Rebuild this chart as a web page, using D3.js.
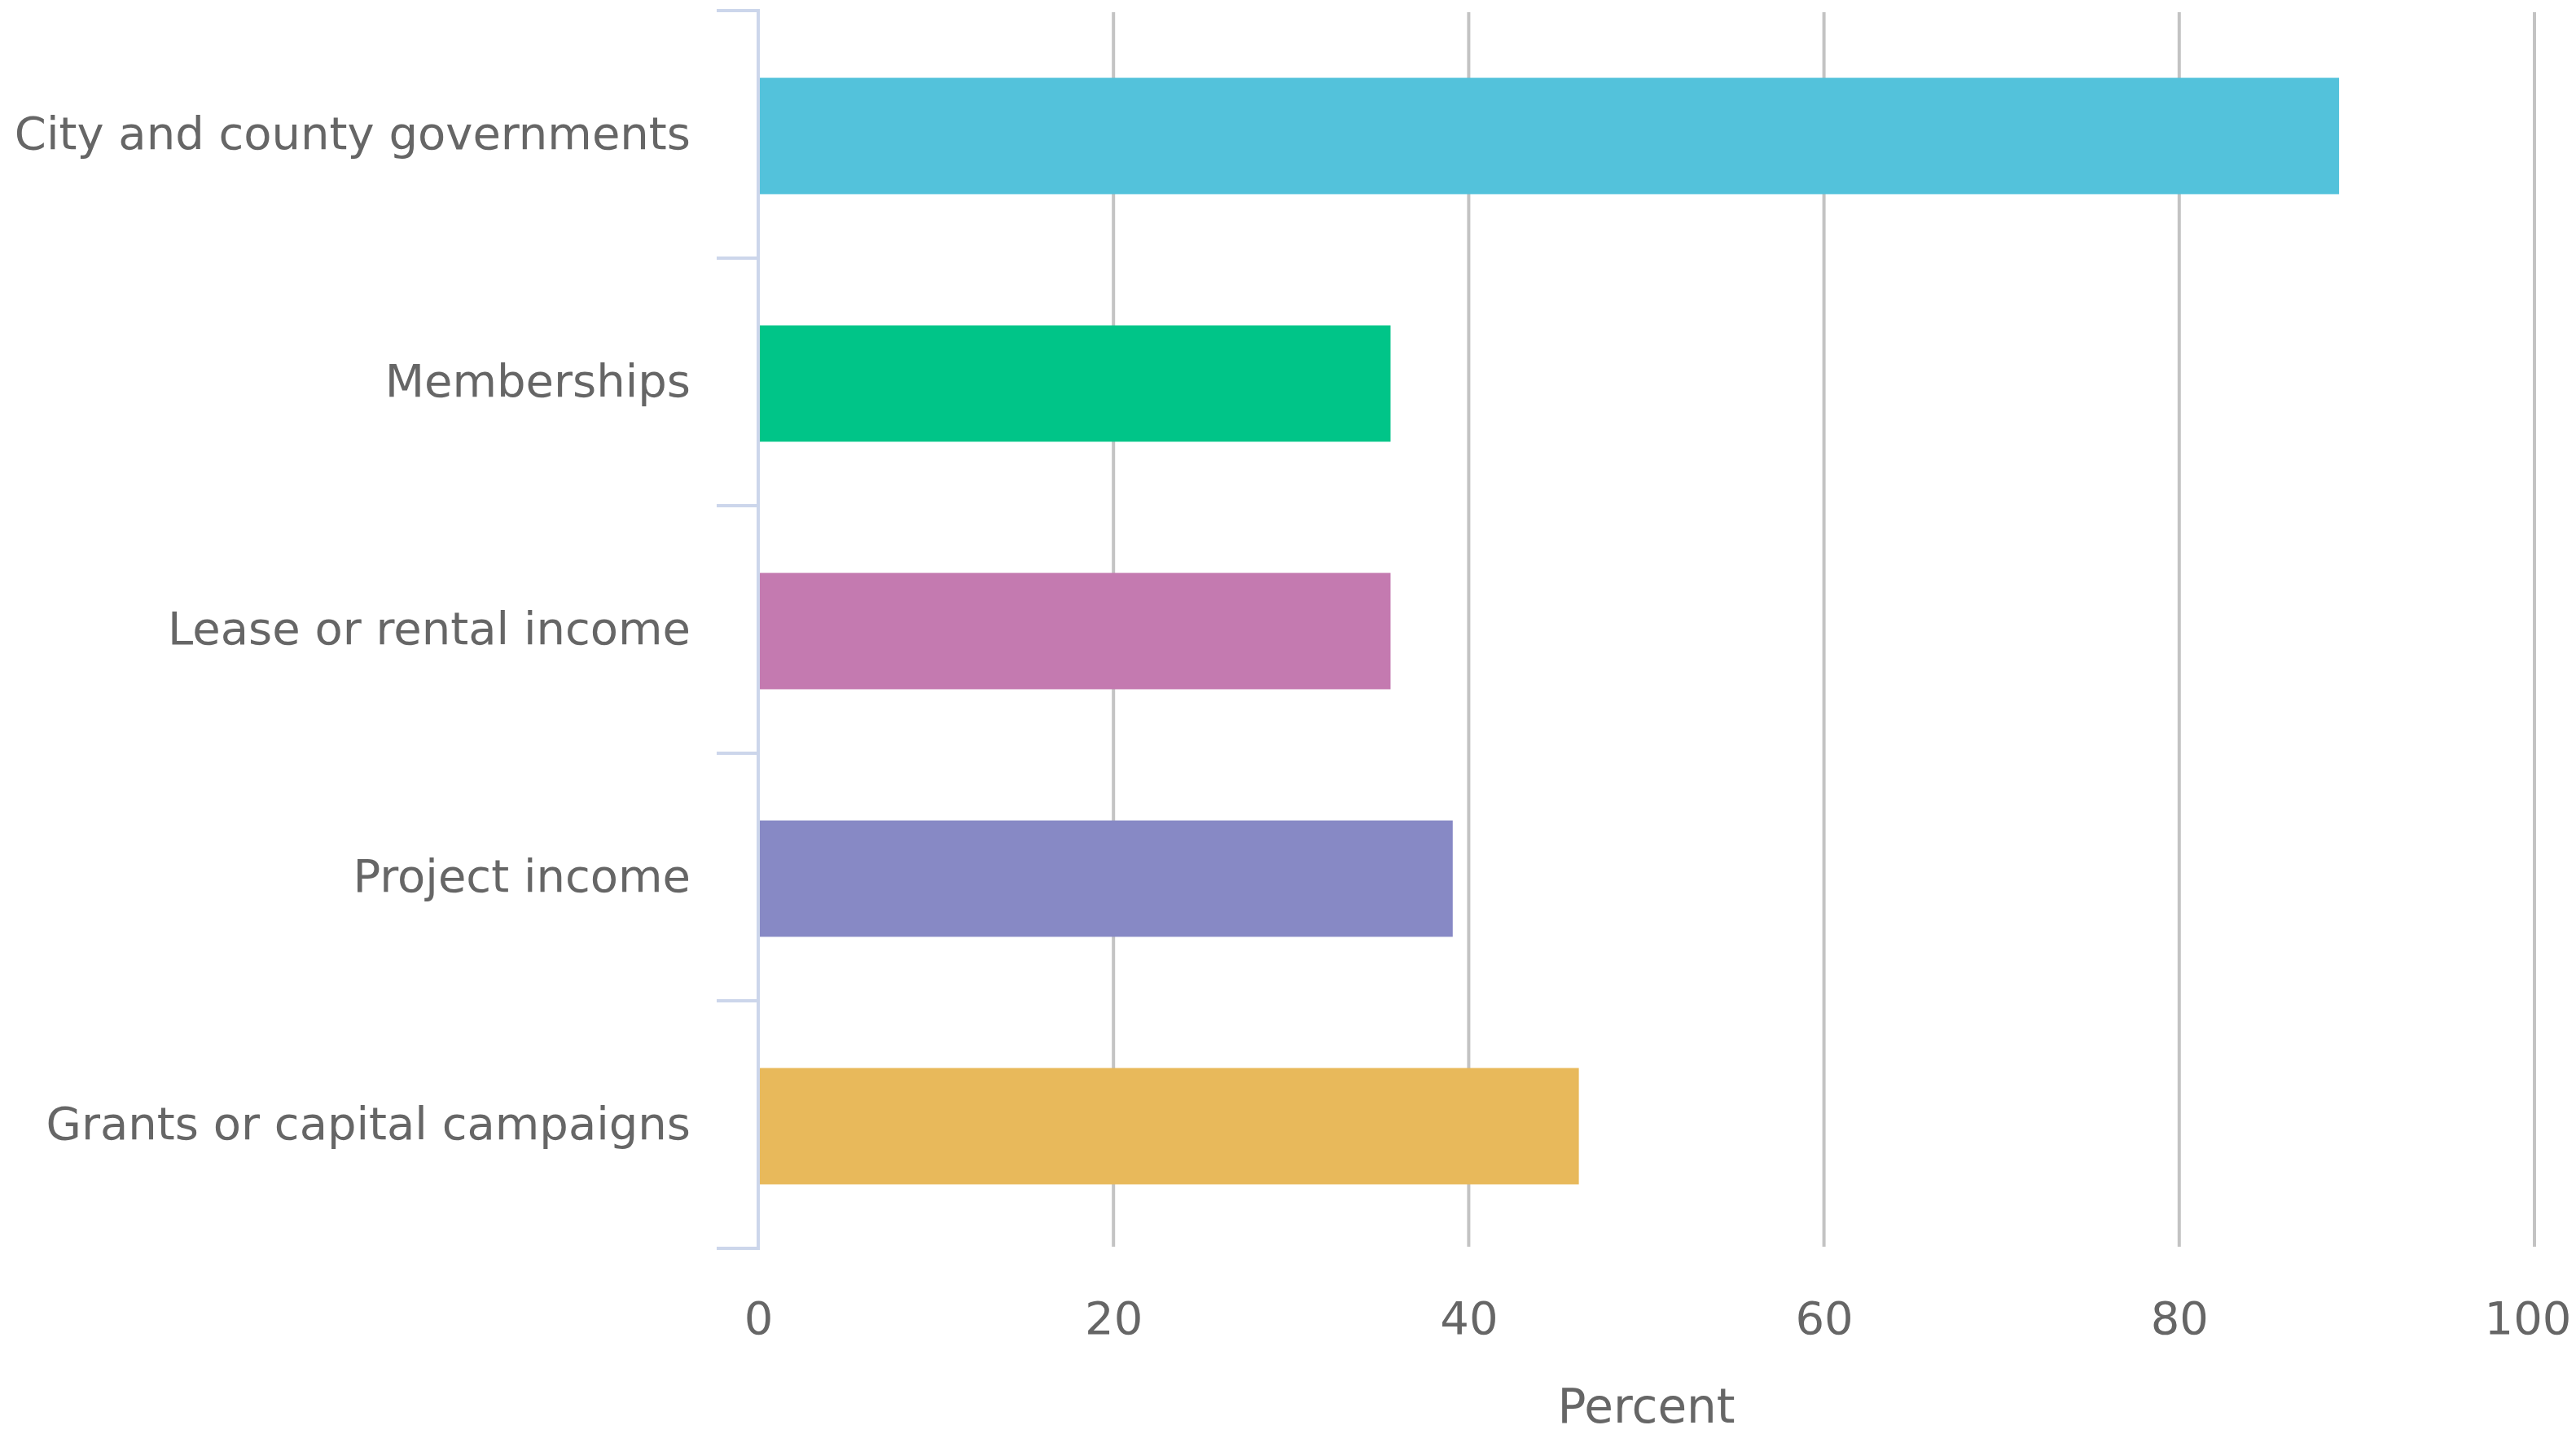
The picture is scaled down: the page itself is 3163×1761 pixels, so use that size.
<!DOCTYPE html>
<html>
<head>
<meta charset="utf-8">
<script src="https://cdn.jsdelivr.net/npm/d3@7"></script>
<style>
  html, body { margin: 0; padding: 0; background: #ffffff; }
  svg { display: block; }
</style>
</head>
<body>
<svg id="chart" width="3163" height="1761"></svg>
<script>
const categories = [
  "City and county governments",
  "Memberships",
  "Lease or rental income",
  "Project income",
  "Grants or capital campaigns"
];
const values = [89.0, 35.6, 35.6, 39.1, 46.2];
const colors = ["#53c2db", "#00c588", "#c47ab0", "#8789c5", "#e8b95b"];
const xTicks = [0, 20, 40, 60, 80, 100];
const xTitle = "Percent";

(function () {
  const plotLeft = 931, plotRight = 3112, plotTop = 13, plotBottom = 1533;
  const font = "'DejaVu Sans', Verdana, sans-serif";

  const svg = d3.select("#chart");

  const x = d3.scaleLinear().domain([0, 100]).range([plotLeft, plotRight]);
  const y = d3.scaleBand().domain(categories).range([plotTop, plotBottom]);

  // gridlines
  svg.append("g").selectAll("line")
    .data(xTicks.filter(t => t > 0))
    .join("line")
    .attr("x1", d => x(d)).attr("x2", d => x(d))
    .attr("y1", plotTop + 2).attr("y2", plotBottom - 2)
    .attr("stroke", "#c3c3c3")
    .attr("stroke-width", 4);

  // bars
  const barH = y.bandwidth() * 0.47;
  svg.append("g").selectAll("rect")
    .data(values)
    .join("rect")
    .attr("x", x(0) + 1)
    .attr("y", (d, i) => y(categories[i]) + y.bandwidth() / 2 - barH / 2 + 2)
    .attr("width", d => x(d) - x(0) - 1)
    .attr("height", barH)
    .attr("fill", (d, i) => colors[i]);

  // y axis
  const yAxisG = svg.append("g");
  yAxisG.append("line")
    .attr("x1", plotLeft).attr("x2", plotLeft)
    .attr("y1", plotTop).attr("y2", plotBottom)
    .attr("stroke", "#ccd6eb").attr("stroke-width", 4);
  const boundaries = categories.map(c => y(c)).concat([plotBottom]);
  yAxisG.selectAll("line.tick")
    .data(boundaries)
    .join("line")
    .attr("class", "tick")
    .attr("x1", plotLeft - 51).attr("x2", plotLeft + 2)
    .attr("y1", d => d).attr("y2", d => d)
    .attr("stroke", "#ccd6eb").attr("stroke-width", 4);
  yAxisG.selectAll("text")
    .data(categories)
    .join("text")
    .attr("x", plotLeft - 83)
    .attr("y", d => y(d) + y.bandwidth() / 2)
    .attr("dy", "0.32em")
    .attr("text-anchor", "end")
    .attr("font-family", font)
    .attr("font-size", 56)
    .attr("fill", "#666666")
    .text(d => d);

  // x axis labels
  const xAxis = d3.axisBottom(x).tickValues(xTicks).tickSize(0).tickPadding(0);
  const xg = svg.append("g").attr("transform", `translate(0, ${plotBottom})`).call(xAxis);
  xg.select(".domain").remove();
  xg.selectAll("text")
    .attr("y", 105)
    .attr("dy", 0)
    .attr("font-family", font)
    .attr("font-size", 56)
    .attr("fill", "#666666");
  // keep the last label inside the picture, as the reference does
  xg.selectAll(".tick").filter(d => d === xTicks[xTicks.length - 1]).select("text")
    .attr("text-anchor", "end")
    .attr("x", 3157 - x(xTicks[xTicks.length - 1]));

  // x title
  svg.append("text")
    .attr("x", (plotLeft + plotRight) / 2)
    .attr("y", 1747)
    .attr("text-anchor", "middle")
    .attr("font-family", font)
    .attr("font-size", 58)
    .attr("fill", "#666666")
    .text(xTitle);
})();
</script>
</body>
</html>
